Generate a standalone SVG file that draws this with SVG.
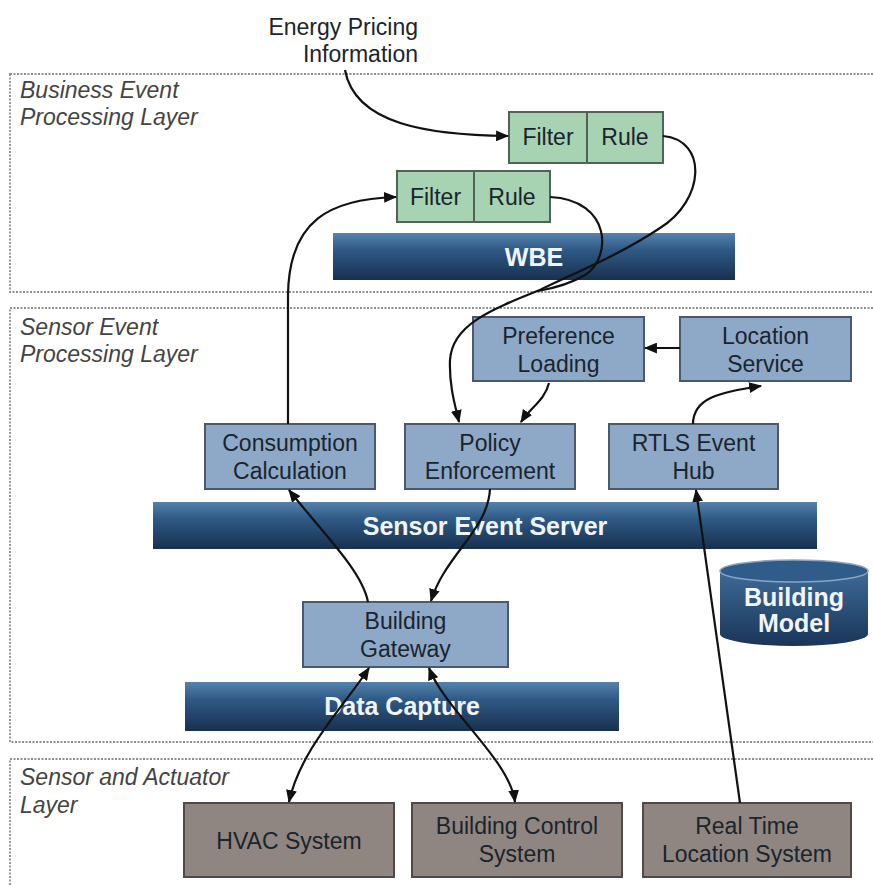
<svg xmlns="http://www.w3.org/2000/svg" width="873" height="885" viewBox="0 0 873 885">
<defs>
<linearGradient id="bar" x1="0" y1="0" x2="0" y2="1">
<stop offset="0" stop-color="#5583ad"/>
<stop offset="0.35" stop-color="#2f5a86"/>
<stop offset="1" stop-color="#18304f"/>
</linearGradient>
<linearGradient id="cyl" x1="0" y1="0" x2="0" y2="1">
<stop offset="0" stop-color="#3d6b98"/>
<stop offset="1" stop-color="#1a3558"/>
</linearGradient>
<marker id="ah" viewBox="0 0 12 10" refX="11" refY="5" markerWidth="13" markerHeight="11" markerUnits="userSpaceOnUse" orient="auto-start-reverse">
<path d="M0,0 L12,5 L0,10 z" fill="#111"/>
</marker>
</defs>
<style>
.layer{fill:none;stroke:#8f8f8f;stroke-width:1.8;stroke-dasharray:2 1.5}
.lt{font-family:"Liberation Sans",Arial,sans-serif;font-style:italic;font-size:23px;fill:#444}
.t{font-family:"Liberation Sans",Arial,sans-serif;font-size:23px;fill:#1a242c;text-anchor:middle}
.bt{font-family:"Liberation Sans",Arial,sans-serif;font-size:25px;font-weight:bold;fill:#f2f5f8;text-anchor:middle}
.green{fill:#a7d3b3;stroke:#4f6357;stroke-width:2}
.blue{fill:#8ea9c8;stroke:#4a5870;stroke-width:2}
.gray{fill:#8f8681;stroke:#4e4a48;stroke-width:2}
.bar{fill:url(#bar)}
.c{fill:none;stroke:#111;stroke-width:2.2}
</style>
<rect width="873" height="885" fill="#fff"/>
<g id="layers">
<rect class="layer" x="10" y="74" width="875" height="218"/>
<rect class="layer" x="10" y="308" width="875" height="434"/>
<rect class="layer" x="10" y="759" width="875" height="140"/>
<text class="lt" x="20" y="98">Business Event</text>
<text class="lt" x="20" y="125">Processing Layer</text>
<text class="lt" x="20" y="335">Sensor Event</text>
<text class="lt" x="20" y="362">Processing Layer</text>
<text class="lt" x="20" y="785">Sensor and Actuator</text>
<text class="lt" x="20" y="813">Layer</text>
</g>
<g id="energy">
<text class="t" x="418" y="35" style="text-anchor:end">Energy Pricing</text>
<text class="t" x="418" y="62" style="text-anchor:end">Information</text>
</g>
<g id="fr1">
<rect class="green" x="509" y="112" width="154" height="51"/>
<line x1="587" y1="112" x2="587" y2="163" stroke="#4f6357" stroke-width="2"/>
<text class="t" x="548" y="145">Filter</text>
<text class="t" x="625" y="145">Rule</text>
</g>
<g id="fr2">
<rect class="green" x="397" y="171" width="153" height="51"/>
<line x1="474" y1="171" x2="474" y2="222" stroke="#4f6357" stroke-width="2"/>
<text class="t" x="435.5" y="205">Filter</text>
<text class="t" x="512" y="205">Rule</text>
</g>
<g id="wbe">
<rect class="bar" x="333" y="233" width="402" height="47"/>
<text class="bt" x="534" y="266">WBE</text>
</g>
<g id="pref">
<rect class="blue" x="473" y="317" width="171" height="64"/>
<text class="t" x="558.5" y="344">Preference</text>
<text class="t" x="558.5" y="372">Loading</text>
</g>
<g id="loc">
<rect class="blue" x="680" y="317" width="171" height="64"/>
<text class="t" x="765.5" y="344">Location</text>
<text class="t" x="765.5" y="372">Service</text>
</g>
<g id="cons">
<rect class="blue" x="205" y="424" width="170" height="65"/>
<text class="t" x="290" y="451">Consumption</text>
<text class="t" x="290" y="479">Calculation</text>
</g>
<g id="policy">
<rect class="blue" x="405" y="424" width="170" height="65"/>
<text class="t" x="490" y="451">Policy</text>
<text class="t" x="490" y="479">Enforcement</text>
</g>
<g id="rtls">
<rect class="blue" x="609" y="424" width="169" height="65"/>
<text class="t" x="693.5" y="451">RTLS Event</text>
<text class="t" x="693.5" y="479">Hub</text>
</g>
<g id="ses">
<rect class="bar" x="153" y="502" width="664" height="47"/>
<text class="bt" x="485" y="535">Sensor Event Server</text>
</g>
<g id="model">
<path d="M720,571 L720,634 A74,12 0 0 0 868,634 L868,571 z" fill="url(#cyl)"/>
<ellipse cx="794" cy="571" rx="74" ry="11" fill="#2f5c89" stroke="#8aa6c4" stroke-width="1.5"/>
<text class="bt" x="794" y="606">Building</text>
<text class="bt" x="794" y="632">Model</text>
</g>
<g id="gateway">
<rect class="blue" x="303" y="602" width="205" height="65"/>
<text class="t" x="405.5" y="629">Building</text>
<text class="t" x="405.5" y="657">Gateway</text>
</g>
<g id="datacapture">
<rect class="bar" x="185" y="682" width="434" height="49"/>
<text class="bt" x="402" y="715">Data Capture</text>
</g>
<g id="hvac">
<rect class="gray" x="184" y="803" width="210" height="74"/>
<text class="t" x="289" y="849">HVAC System</text>
</g>
<g id="bcs">
<rect class="gray" x="412" y="803" width="210" height="74"/>
<text class="t" x="517" y="834">Building Control</text>
<text class="t" x="517" y="862">System</text>
</g>
<g id="rtlsys">
<rect class="gray" x="643" y="803" width="208" height="74"/>
<text class="t" x="747" y="834">Real Time</text>
<text class="t" x="747" y="862">Location System</text>
</g>
<g id="connectors">
<path class="c" d="M345,70 C355,125 430,135 508,136" marker-end="url(#ah)"/>
<path class="c" d="M288,424 L288,295 C289,220 330,199 396,197" marker-end="url(#ah)"/>
<path class="c" d="M663,136 C708,140 705,200 660,228 C620,255 570,275 540,290 C490,310 452,325 450,360 C449,385 455,405 459,422" marker-end="url(#ah)"/>
<path class="c" d="M550,197 C612,200 612,258 585,275 C570,284 555,288 538,291"/>
<path class="c" d="M549,383 C545,400 530,408 521,422" marker-end="url(#ah)"/>
<path class="c" d="M680,348 L645,348" marker-end="url(#ah)"/>
<path class="c" d="M693,424 C693,398 720,392 761,386" marker-end="url(#ah)"/>
<path class="c" d="M740,803 L696,490" marker-end="url(#ah)"/>
<path class="c" d="M368,602 C362,570 320,530 289,490" marker-end="url(#ah)"/>
<path class="c" d="M490,489 C488,530 445,555 431,601" marker-end="url(#ah)"/>
<path class="c" d="M369,668 C345,705 300,750 289,802" marker-start="url(#ah)" marker-end="url(#ah)"/>
<path class="c" d="M429,668 C445,710 510,760 515,802" marker-start="url(#ah)" marker-end="url(#ah)"/>
</g>
</svg>
